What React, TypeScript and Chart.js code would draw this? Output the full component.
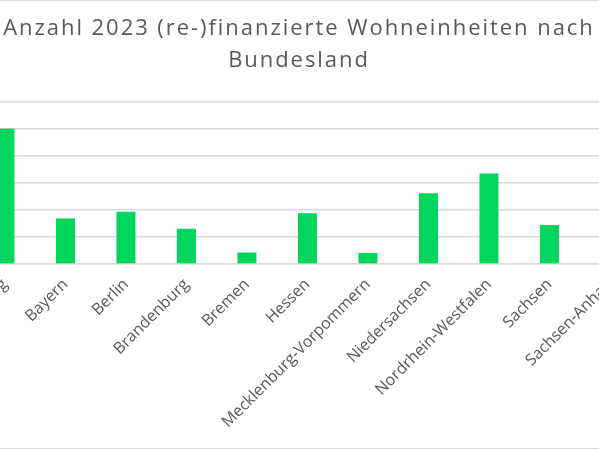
import { useEffect, useRef } from 'react';
import { Chart, registerables } from 'chart.js';

Chart.register(...registerables);

const titleLines = ['Anzahl 2023 (re-)finanzierte Wohneinheiten nach', 'Bundesland'];
const bundeslaender = [
  'Baden-Württemberg',
  'Bayern',
  'Berlin',
  'Brandenburg',
  'Bremen',
  'Hessen',
  'Mecklenburg-Vorpommern',
  'Niedersachsen',
  'Nordrhein-Westfalen',
  'Sachsen',
  'Sachsen-Anhalt',
];
const wohneinheiten = [2500, 840, 965, 650, 215, 940, 205, 1310, 1675, 720, 450];
const yMax = 3000;
const yStep = 500;

const textGrey = '#595959';
const gridGrey = '#d9d9d9';

// the title font is wider than Open Sans, so the title is drawn with some letter spacing;
// tick labels are drawn on a later layer (z: 1) after the spacing is reset
const titleSpacing = {
  id: 'titleSpacing',
  beforeDraw(chart: any) {
    chart.ctx.letterSpacing = '1.95px';
  },
  afterDatasetsDraw(chart: any) {
    chart.ctx.letterSpacing = '0px';
  },
};

export default function App() {
  const chartRef = useRef<HTMLCanvasElement>(null);

  useEffect(() => {
    if (!chartRef.current) return;

    const chart = new Chart(chartRef.current, {
      type: 'bar',
      data: {
        labels: bundeslaender,
        datasets: [{
          label: 'Wohneinheiten',
          data: wohneinheiten,
          backgroundColor: '#00d65c',
          barPercentage: 0.314,
          categoryPercentage: 1,
        }],
      },
      plugins: [titleSpacing],
      options: {
        animation: false,
        responsive: true,
        maintainAspectRatio: false,
        plugins: {
          legend: { display: false },
          title: {
            display: true,
            text: titleLines,
            color: textGrey,
            font: { family: 'Open Sans', size: 22, weight: 'normal', lineHeight: 1.45 },
            padding: { top: 12, bottom: 25 },
          },
        },
        scales: {
          x: {
            grid: { display: false },
            border: { color: gridGrey, width: 1.5 },
            ticks: {
              z: 1,
              color: textGrey,
              font: { family: 'Open Sans', size: 16 },
              minRotation: 45,
              maxRotation: 45,
              autoSkip: false,
            },
            afterFit: (scale: any) => {
              scale.height = 184;
              scale.paddingLeft = 0;
              // room on the right of the plot, kept out of the title's width
              scale.paddingRight = 37.8;
            },
          },
          y: {
            min: 0,
            max: yMax,
            border: { display: false },
            grid: { color: gridGrey, lineWidth: 1.5, drawTicks: false },
            ticks: {
              z: 1,
              stepSize: yStep,
              color: textGrey,
              font: { family: 'Open Sans', size: 16 },
              padding: 8,
              callback: (v) => Number(v).toLocaleString('de-DE'),
            },
            afterFit: (scale: any) => { scale.width = 54.7; },
          },
        },
      },
    });

    return () => chart.destroy();
  }, []);

  return (
    <div style={{ position: 'fixed', left: 0, top: 0, width: 599, height: 449, overflow: 'hidden', background: '#fff' }}>
      <div
        style={{
          position: 'absolute',
          left: -81,
          top: 0,
          width: 760,
          height: 449,
          boxSizing: 'border-box',
          border: `1px solid ${gridGrey}`,
          background: '#fff',
        }}
      >
        <div style={{ position: 'relative', width: '100%', height: '100%' }}>
          <canvas ref={chartRef} />
        </div>
      </div>
    </div>
  );
}
